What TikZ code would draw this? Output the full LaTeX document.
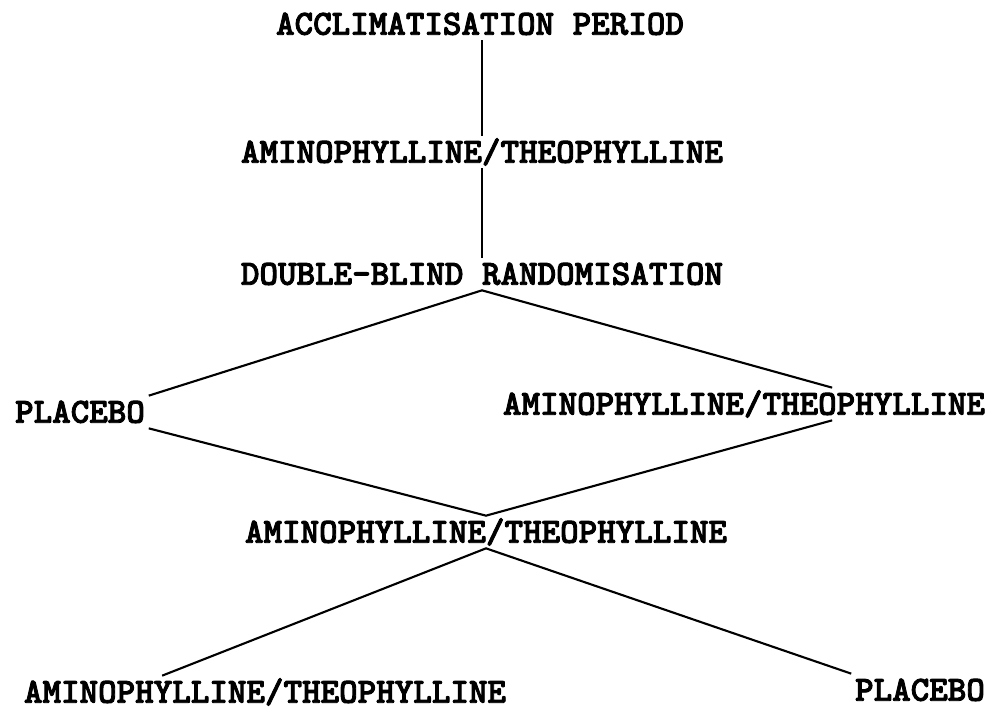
\documentclass[tikz,border=0pt]{standalone}
\usepackage{fontspec}
\newfontfamily\typer[FakeBold=2.5]{lmmonolt10-bold.otf}
\usetikzlibrary{calc}
\begin{document}
\begin{tikzpicture}[
  x=0.02cm, y=-0.02cm,
  font=\typer\fontsize{20.1}{22}\selectfont,
  stage/.style={inner xsep=2pt, inner ysep=3pt, text height=12.2pt, text depth=0pt},
  link/.style={line width=1.2pt}
]
\useasboundingbox (0,0) rectangle (1000,709);

\node[stage] (acclim) at (480,24) {ACCLIMATISATION PERIOD};
\node[stage] (theo1) at (482,152) {AMINOPHYLLINE/THEOPHYLLINE};
\node[stage] (random) at (482,274) {DOUBLE-BLIND RANDOMISATION};
\node[stage] (placebo1) at (80,412) {PLACEBO};
\node[stage] (theo2) at (744,404) {AMINOPHYLLINE/THEOPHYLLINE};
\node[stage] (theo3) at (486,532) {AMINOPHYLLINE/THEOPHYLLINE};
\node[stage] (theo4) at (265,692) {AMINOPHYLLINE/THEOPHYLLINE};
\node[stage] (placebo2) at (920,690) {PLACEBO};

% stem
\draw[link] (theo1.north |- acclim.south) -- (theo1.north);
\draw[link] (theo1.south) -- (random.north);

% crossover
\draw[link] (placebo1.north east) -- (random.south) -- ($(theo2.north west)!0.68!(theo2.north east)$);
\draw[link] (placebo1.south east) -- (theo3.north) -- ($(theo2.south west)!0.68!(theo2.south east)$);
\draw[link] ($(theo4.north west)!0.29!(theo4.north east)$) -- (theo3.south) -- (placebo2.north west);

\end{tikzpicture}
\end{document}
